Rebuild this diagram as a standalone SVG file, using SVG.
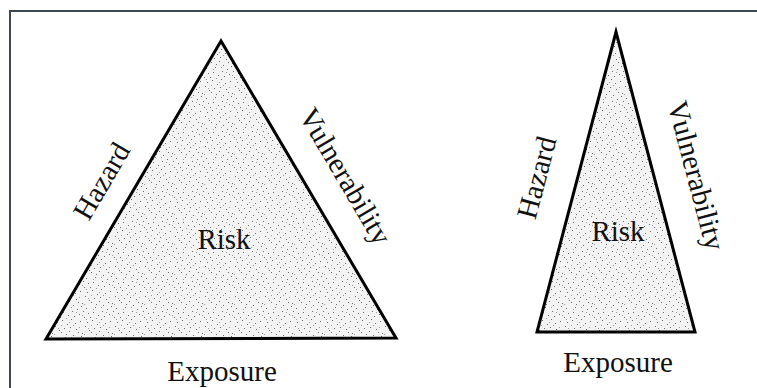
<svg xmlns="http://www.w3.org/2000/svg" width="757" height="388" viewBox="0 0 757 388">
<style>
.lbl{font-family:"Liberation Serif","Times New Roman",serif;font-size:29px;fill:#111;text-anchor:middle}
.tri{fill:url(#stip);stroke:#000;stroke-width:3;stroke-linejoin:miter}
</style>
<defs>
<pattern id="stip" width="30" height="30" patternUnits="userSpaceOnUse">
<rect width="30" height="30" fill="#f3f3f3"/>
<g fill="#6a6a6a">
<rect x="1" y="2" width="1" height="1"/><rect x="5" y="7" width="1" height="1"/><rect x="9" y="1" width="1" height="1"/>
<rect x="13" y="5" width="1" height="1"/><rect x="17" y="9" width="1" height="1"/><rect x="22" y="3" width="1" height="1"/>
<rect x="26" y="8" width="1" height="1"/><rect x="3" y="12" width="1" height="1"/><rect x="8" y="15" width="1" height="1"/>
<rect x="12" y="11" width="1" height="1"/><rect x="19" y="14" width="1" height="1"/><rect x="24" y="17" width="1" height="1"/>
<rect x="28" y="13" width="1" height="1"/><rect x="2" y="20" width="1" height="1"/><rect x="7" y="24" width="1" height="1"/>
<rect x="11" y="19" width="1" height="1"/><rect x="15" y="23" width="1" height="1"/><rect x="20" y="21" width="1" height="1"/>
<rect x="25" y="26" width="1" height="1"/><rect x="4" y="28" width="1" height="1"/><rect x="10" y="27" width="1" height="1"/>
<rect x="16" y="29" width="1" height="1"/><rect x="21" y="6" width="1" height="1"/><rect x="27" y="22" width="1" height="1"/>
<rect x="14" y="16" width="1" height="1"/><rect x="6" y="4" width="1" height="1"/><rect x="18" y="2" width="1" height="1"/>
<rect x="23" y="11" width="1" height="1"/><rect x="0" y="17" width="1" height="1"/><rect x="29" y="0" width="1" height="1"/>
</g>
<g fill="#9a9a9a">
<rect x="3" y="9" width="1" height="1"/><rect x="11" y="7" width="1" height="1"/><rect x="16" y="12" width="1" height="1"/>
<rect x="22" y="15" width="1" height="1"/><rect x="6" y="18" width="1" height="1"/><rect x="13" y="25" width="1" height="1"/>
<rect x="19" y="27" width="1" height="1"/><rect x="26" y="19" width="1" height="1"/><rect x="9" y="22" width="1" height="1"/>
<rect x="24" y="4" width="1" height="1"/><rect x="1" y="25" width="1" height="1"/><rect x="28" y="28" width="1" height="1"/>
</g>
</pattern>
</defs>
<rect width="757" height="388" fill="#fff"/>
<path d="M10,388 V11 H757" fill="none" stroke="#3e4757" stroke-width="2"/>
<g id="left-triangle">
<polygon class="tri" points="221,41 46,339 396,338"/>
<text class="lbl" x="224" y="249">Risk</text>
<text class="lbl" transform="translate(110,186) rotate(-59.6)">Hazard</text>
<text class="lbl" transform="translate(337,181) rotate(59.5)">Vulnerability</text>
<text class="lbl" x="222" y="381">Exposure</text>
</g>
<g id="right-triangle">
<polygon class="tri" points="616,32 537,332 695,332"/>
<text class="lbl" x="618" y="241">Risk</text>
<text class="lbl" transform="translate(546,180) rotate(-75.2)">Hazard</text>
<text class="lbl" transform="translate(687,178) rotate(75.2)">Vulnerability</text>
<text class="lbl" x="618" y="372">Exposure</text>
</g>
<g id="connectors"></g>
</svg>
